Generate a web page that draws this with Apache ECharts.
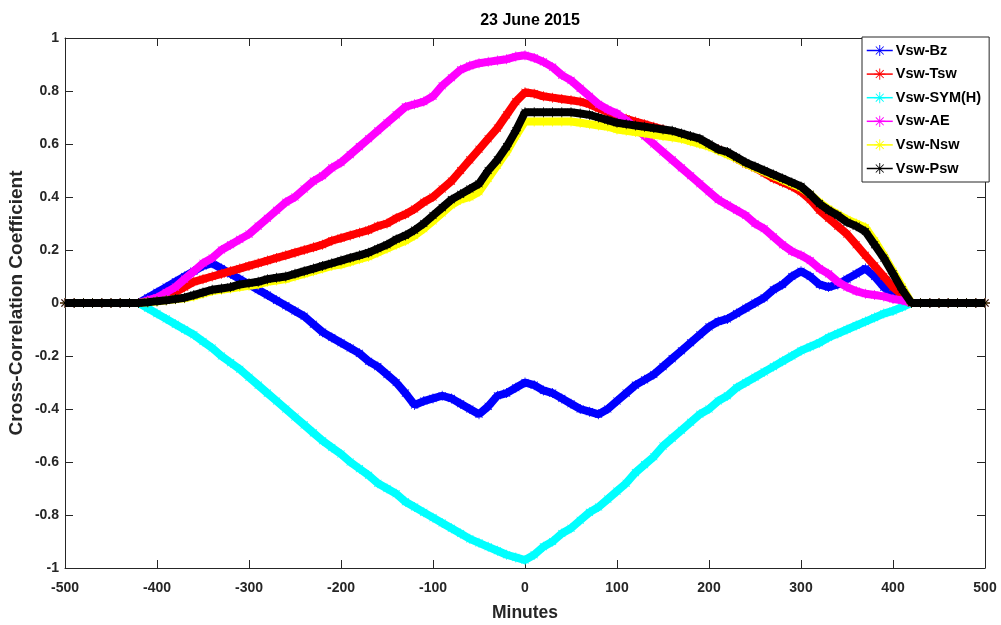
<!DOCTYPE html>
<html>
<head>
<meta charset="utf-8">
<script src="https://cdn.jsdelivr.net/npm/echarts@6/dist/echarts.min.js"></script>
<style>html,body{margin:0;padding:0;background:#fff}#c{width:1001px;height:625px}</style>
</head>
<body>
<div id="c"></div>
<script>
// Time lag in minutes, step 10 from -500 to 500
const minutes = [];
for (let m = -500; m <= 500; m += 10) minutes.push(m);

// values from -500 ... 500 (101 values)
const vswBz = [0,0,0,0,0,0,0,0,0,
  0.02,0.04,0.06,0.08,0.10,0.12,0.14,0.15,0.13,0.11,
  0.09,0.07,0.05,0.03,0.01,-0.01,-0.03,-0.05,-0.08,-0.11,
  -0.13,-0.15,-0.17,-0.19,-0.22,-0.24,-0.27,-0.30,-0.34,-0.385,
  -0.37,-0.36,-0.35,-0.36,-0.38,-0.40,-0.42,-0.39,-0.35,-0.34,
  -0.32,-0.30,
  -0.31,-0.33,-0.34,-0.36,-0.38,-0.40,-0.41,-0.42,-0.40,-0.37,
  -0.34,-0.31,-0.29,-0.27,-0.24,-0.21,-0.18,-0.15,-0.12,-0.09,
  -0.07,-0.06,-0.04,-0.02,0.0,0.02,0.05,0.07,0.10,0.12,
  0.10,0.07,0.06,0.07,0.09,0.11,0.13,0.10,0.06,0.03,
  0.01,0,0,0,0,0,0,0,0,0];
const vswTsw = [0,0,0,0,0,0,0,0,0,
  0.005,0.01,0.02,0.04,0.06,0.08,0.09,0.10,0.11,0.12,
  0.13,0.14,0.15,0.16,0.17,0.18,0.19,0.20,0.21,0.22,
  0.235,0.245,0.255,0.265,0.275,0.29,0.30,0.32,0.335,0.355,
  0.38,0.40,0.43,0.46,0.50,0.54,0.58,0.62,0.66,0.71,
  0.76,0.795,
  0.79,0.78,0.775,0.77,0.765,0.76,0.75,0.735,0.72,0.705,
  0.695,0.685,0.675,0.665,0.655,0.645,0.635,0.62,0.61,0.595,
  0.58,0.565,0.545,0.525,0.51,0.49,0.47,0.455,0.44,0.42,
  0.39,0.35,0.32,0.29,0.26,0.22,0.18,0.14,0.10,0.06,
  0.03,0,0,0,0,0,0,0,0,0];
const vswSymH = [0,0,0,0,0,0,0,0,0,
  -0.02,-0.04,-0.06,-0.08,-0.10,-0.12,-0.145,-0.17,-0.20,-0.225,
  -0.25,-0.28,-0.31,-0.34,-0.37,-0.40,-0.43,-0.46,-0.49,-0.52,
  -0.545,-0.57,-0.60,-0.625,-0.65,-0.68,-0.70,-0.72,-0.75,-0.77,
  -0.79,-0.81,-0.83,-0.85,-0.87,-0.89,-0.905,-0.92,-0.935,-0.95,
  -0.96,-0.97,
  -0.95,-0.92,-0.90,-0.87,-0.85,-0.82,-0.79,-0.77,-0.74,-0.71,
  -0.68,-0.64,-0.61,-0.58,-0.54,-0.51,-0.48,-0.45,-0.42,-0.40,
  -0.37,-0.35,-0.32,-0.30,-0.28,-0.26,-0.24,-0.22,-0.20,-0.18,
  -0.165,-0.15,-0.13,-0.115,-0.10,-0.085,-0.07,-0.055,-0.04,-0.03,
  -0.015,0,0,0,0,0,0,0,0,0];
const vswAE = [0,0,0,0,0,0,0,0,0,
  0.01,0.02,0.04,0.06,0.09,0.12,0.15,0.17,0.20,0.22,
  0.24,0.26,0.29,0.32,0.35,0.38,0.40,0.43,0.46,0.48,
  0.51,0.53,0.56,0.59,0.62,0.65,0.68,0.71,0.74,0.75,
  0.76,0.78,0.82,0.85,0.88,0.895,0.905,0.91,0.915,0.92,
  0.93,0.935,
  0.925,0.91,0.89,0.86,0.84,0.81,0.78,0.75,0.73,0.715,
  0.69,0.66,0.63,0.60,0.57,0.54,0.51,0.48,0.45,0.42,
  0.39,0.37,0.35,0.33,0.30,0.28,0.25,0.22,0.195,0.18,
  0.16,0.13,0.11,0.08,0.06,0.045,0.035,0.03,0.025,0.015,
  0.01,0,0,0,0,0,0,0,0,0];
const vswNsw = [0,0,0,0,0,0,0,0,0,
  0.003,0.006,0.01,0.014,0.018,0.025,0.035,0.045,0.05,0.055,
  0.06,0.065,0.07,0.08,0.085,0.09,0.10,0.11,0.12,0.13,
  0.14,0.145,0.155,0.165,0.175,0.19,0.205,0.22,0.235,0.255,
  0.28,0.31,0.34,0.37,0.39,0.40,0.42,0.47,0.52,0.57,
  0.63,0.685,
  0.685,0.685,0.685,0.685,0.685,0.68,0.675,0.67,0.665,0.655,
  0.65,0.645,0.64,0.635,0.63,0.625,0.62,0.61,0.60,0.59,
  0.575,0.56,0.545,0.525,0.51,0.495,0.48,0.465,0.45,0.435,
  0.41,0.38,0.355,0.335,0.315,0.30,0.285,0.235,0.18,0.12,
  0.06,0,0,0,0,0,0,0,0,0];
const vswPsw = [0,0,0,0,0,0,0,0,0,
  0.003,0.007,0.01,0.015,0.02,0.03,0.04,0.05,0.055,0.06,
  0.07,0.075,0.08,0.09,0.095,0.10,0.11,0.12,0.13,0.14,
  0.15,0.16,0.17,0.18,0.19,0.205,0.22,0.24,0.255,0.275,
  0.30,0.33,0.36,0.39,0.41,0.43,0.45,0.50,0.54,0.59,
  0.65,0.72,
  0.72,0.72,0.72,0.72,0.72,0.715,0.71,0.70,0.69,0.68,
  0.675,0.67,0.665,0.66,0.655,0.65,0.64,0.63,0.62,0.60,
  0.58,0.57,0.55,0.53,0.515,0.50,0.485,0.47,0.455,0.44,
  0.41,0.375,0.35,0.33,0.305,0.29,0.27,0.22,0.17,0.11,
  0.05,0,0,0,0,0,0,0,0,0];

const seriesNames = ['Vsw-Bz','Vsw-Tsw','Vsw-SYM(H)','Vsw-AE','Vsw-Nsw','Vsw-Psw'];
const seriesColors = ['#0000ff','#ff0000','#00ffff','#ff00ff','#ffff00','#000000'];
const seriesValues = [vswBz, vswTsw, vswSymH, vswAE, vswNsw, vswPsw];
const yAxisTitle = 'Cross-Correlation Coefficient';

const star = 'path://M-0.8,-10L0.8,-10L0.8,10L-0.8,10Z M-10,-0.8L10,-0.8L10,0.8L-10,0.8Z M-7.6,-6.5L-6.5,-7.6L7.6,6.5L6.5,7.6Z M6.5,-7.6L7.6,-6.5L-6.5,7.6L-7.6,6.5Z';

const axisColor = '#262626';
const font = '"Liberation Sans", Arial, sans-serif';

const chart = echarts.init(document.getElementById('c'), null, {renderer: 'canvas'});
chart.setOption({
  backgroundColor: '#fff',
  animation: false,
  title: {
    text: '23 June 2015', left: 525, top: 8, textAlign: 'center',
    textStyle: {fontFamily: font, fontWeight: 'bold', fontSize: 16, color: '#000'}
  },
  graphic: [{
    type: 'text', x: 17, y: 303, rotation: Math.PI / 2,
    style: {text: yAxisTitle, font: 'bold 19px "Liberation Sans", Arial, sans-serif',
      fill: '#262626', align: 'center', verticalAlign: 'middle'}
  }],
  legend: {
    orient: 'vertical', left: 862, top: 37,
    data: seriesNames,
    backgroundColor: '#fff', borderColor: '#262626', borderWidth: 1,
    padding: [6, 8, 6, 4], itemGap: 8.6, itemWidth: 26, itemHeight: 14,
    lineStyle: {width: 1.5},
    textStyle: {fontFamily: font, fontWeight: 'bold', fontSize: 14.5, color: '#000', padding: [0,0,0,-2]}
  },
  grid: {left: 65, right: 16, top: 38, bottom: 57, containLabel: false, outerBoundsMode: 'none'},
  xAxis: [{
    type: 'value', min: -500, max: 500, interval: 100,
    name: 'Minutes', nameLocation: 'middle', nameGap: 36,
    nameTextStyle: {fontFamily: font, fontWeight: 'bold', fontSize: 17.5, color: '#262626'},
    axisLine: {show: true, onZero: false, lineStyle: {color: axisColor, width: 1}},
    axisTick: {show: true, inside: true, length: 8, lineStyle: {color: axisColor}},
    axisLabel: {fontFamily: font, fontWeight: 'bold', fontSize: 14, color: axisColor, margin: 13},
    splitLine: {show: false}
  }, {
    type: 'value', min: -500, max: 500, interval: 100, position: 'top',
    axisLine: {show: true, onZero: false, lineStyle: {color: axisColor, width: 1}},
    axisTick: {show: true, inside: true, length: 8, lineStyle: {color: axisColor}},
    axisLabel: {show: false}, splitLine: {show: false}
  }],
  yAxis: [{
    type: 'value', min: -1, max: 1, interval: 0.2,
    axisLine: {show: true, onZero: false, lineStyle: {color: axisColor, width: 1}},
    axisTick: {show: true, inside: true, length: 8, lineStyle: {color: axisColor}},
    axisLabel: {fontFamily: font, fontWeight: 'bold', fontSize: 14, color: axisColor, margin: 6,
      formatter: v => String(Math.round(v * 10) / 10)},
    splitLine: {show: false}
  }, {
    type: 'value', min: -1, max: 1, interval: 0.2, position: 'right',
    axisLine: {show: true, onZero: false, lineStyle: {color: axisColor, width: 1}},
    axisTick: {show: true, inside: true, length: 8, lineStyle: {color: axisColor}},
    axisLabel: {show: false}, splitLine: {show: false}
  }],
  series: seriesNames.map((name, i) => ({
    name: name, type: 'line', xAxisIndex: 0, yAxisIndex: 0,
    data: minutes.map((m, k) => [m, seriesValues[i][k]]),
    symbol: star, symbolSize: 10, showSymbol: true, clip: false,
    lineStyle: {color: seriesColors[i], width: 8},
    itemStyle: {color: seriesColors[i]},
    z: 2 + i
  }))
});
</script>
</body>
</html>
